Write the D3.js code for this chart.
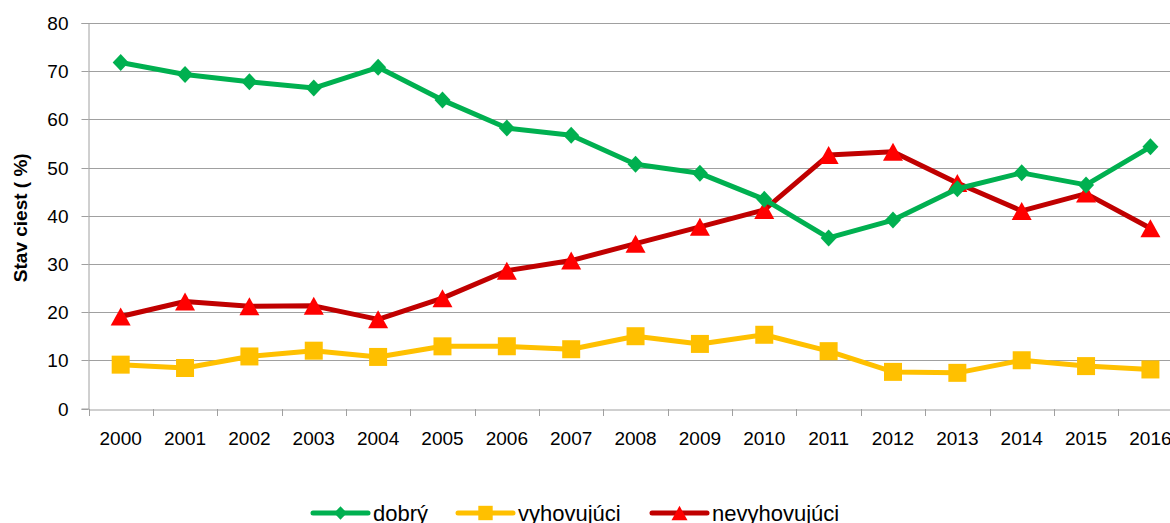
<!DOCTYPE html>
<html>
<head>
<meta charset="utf-8">
<script src="https://cdn.jsdelivr.net/npm/d3@7"></script>
<style>
html,body{margin:0;padding:0;background:#fff;}
svg{display:block;font-family:"Liberation Sans",Arial,sans-serif;}
</style>
</head>
<body>
<svg id="chart" width="1170" height="523"></svg>
<script>
const years = ["2000","2001","2002","2003","2004","2005","2006","2007","2008","2009","2010","2011","2012","2013","2014","2015","2016"];
const dobry = [71.8,69.3,67.8,66.5,70.8,64.0,58.2,56.7,50.7,48.8,43.4,35.4,39.1,45.6,48.9,46.4,54.3];
const vyhovujuci = [9.1,8.4,10.8,12.0,10.7,12.9,12.9,12.3,15.0,13.4,15.3,11.9,7.6,7.4,10.0,8.8,8.1];
const nevyhovujuci = [19.1,22.2,21.2,21.3,18.5,22.9,28.6,30.7,34.2,37.7,41.2,52.6,53.3,46.8,41.0,44.6,37.4];
const yTicks = [0,10,20,30,40,50,60,70,80];
const seriesNames = ["dobrý","vyhovujúci","nevyhovujúci"];
const yTitle = "Stav ciest ( %)";

const svg = d3.select("#chart");
const pLeft = 88.5, pRight = 1182.6, pTop = 23, pBottom = 408.5;

const x = d3.scaleBand().domain(years).range([pLeft, pRight]).padding(0);
const y = d3.scaleLinear().domain([0, 80]).range([pBottom, pTop]);

const gridColor = "#a0a0a0";

// gridlines
svg.append("g").selectAll("line").data(yTicks.filter(d => d > 0)).join("line")
  .attr("x1", pLeft).attr("x2", pRight)
  .attr("y1", d => Math.round(y(d)) + 0.5).attr("y2", d => Math.round(y(d)) + 0.5)
  .attr("stroke", gridColor).attr("stroke-width", 1);

// y axis
const yAxis = svg.append("g").attr("transform", `translate(${pLeft},0)`)
  .call(d3.axisLeft(y).tickValues(yTicks).tickSize(7).tickPadding(13).tickFormat(d3.format("d")));
yAxis.select(".domain").attr("stroke", gridColor);
yAxis.selectAll(".tick line").attr("stroke", gridColor);
yAxis.selectAll(".tick").attr("transform", d => `translate(0,${Math.round(y(d)) + 0.5})`);
yAxis.selectAll("text").attr("font-size", 19).attr("fill", "#000").attr("font-family", "Liberation Sans, Arial, sans-serif");

// x axis
const xAxis = svg.append("g").attr("transform", `translate(0,${Math.round(pBottom) + 0.5})`)
  .call(d3.axisBottom(x).tickSize(0).tickPadding(22));
xAxis.select(".domain").attr("stroke", gridColor);
xAxis.selectAll("text").attr("font-size", 19).attr("fill", "#000").attr("font-family", "Liberation Sans, Arial, sans-serif");
// category boundary ticks
svg.append("g").selectAll("line").data(years).join("line")
  .attr("x1", d => Math.round(x(d)) + 0.5).attr("x2", d => Math.round(x(d)) + 0.5)
  .attr("y1", Math.round(pBottom)).attr("y2", Math.round(pBottom) + 7)
  .attr("stroke", gridColor).attr("stroke-width", 1);

// y title
svg.append("text")
  .attr("transform", `translate(27,${(pTop + pBottom) / 2 + 2}) rotate(-90)`)
  .attr("text-anchor", "middle")
  .attr("font-size", 19).attr("font-weight", "bold")
  .text(yTitle);

const cx = d => x(d) + x.bandwidth() / 2;

const line = d3.line().x((d, i) => cx(years[i])).y(d => y(d));

function diamond(px, py, w, h) {
  return `M${px},${py - h / 2}L${px + w / 2},${py}L${px},${py + h / 2}L${px - w / 2},${py}Z`;
}
function square(px, py, s) {
  return `M${px - s / 2},${py - s / 2}h${s}v${s}h${-s}Z`;
}
function triangle(px, py, w, h) {
  return `M${px},${py - h / 2}L${px + w / 2},${py + h / 2}L${px - w / 2},${py + h / 2}Z`;
}

const series = [
  {name: seriesNames[0], data: dobry, line: "#00b050", fill: "#00b050", shape: "diamond"},
  {name: seriesNames[1], data: vyhovujuci, line: "#ffc000", fill: "#ffc000", shape: "square"},
  {name: seriesNames[2], data: nevyhovujuci, line: "#c00000", fill: "#ff0000", shape: "triangle"}
];

function markerPath(shape, px, py, scale) {
  if (shape === "diamond") return diamond(px, py, 16 * scale, 17 * scale);
  if (shape === "square") return square(px, py, 18 * scale);
  return triangle(px, py, 20 * scale, 18 * scale);
}

const order = [1, 2, 0];
order.forEach(k => {
  const s = series[k];
  const g = svg.append("g");
  g.append("path").datum(s.data).attr("d", line)
    .attr("fill", "none").attr("stroke", s.line).attr("stroke-width", 5)
    .attr("stroke-linejoin", "round").attr("stroke-linecap", "round");
  g.selectAll("path.m").data(s.data).join("path").attr("class", "m")
    .attr("d", (d, i) => markerPath(s.shape, cx(years[i]), y(d), 1))
    .attr("fill", s.fill);
});

// legend
const legendY = 513;
const legendItems = [
  {s: series[0], x0: 313},
  {s: series[1], x0: 458},
  {s: series[2], x0: 652}
];
const lg = svg.append("g");
legendItems.forEach(it => {
  lg.append("line").attr("x1", it.x0).attr("x2", it.x0 + 55)
    .attr("y1", legendY).attr("y2", legendY)
    .attr("stroke", it.s.line).attr("stroke-width", 5).attr("stroke-linecap", "round");
  lg.append("path").attr("d", markerPath(it.s.shape, it.x0 + 27.5, legendY, 0.8)).attr("fill", it.s.fill);
  lg.append("text").attr("x", it.x0 + 60).attr("y", legendY + 8)
    .attr("font-size", 22).attr("fill", "#000").text(it.s.name);
});
</script>
</body>
</html>
